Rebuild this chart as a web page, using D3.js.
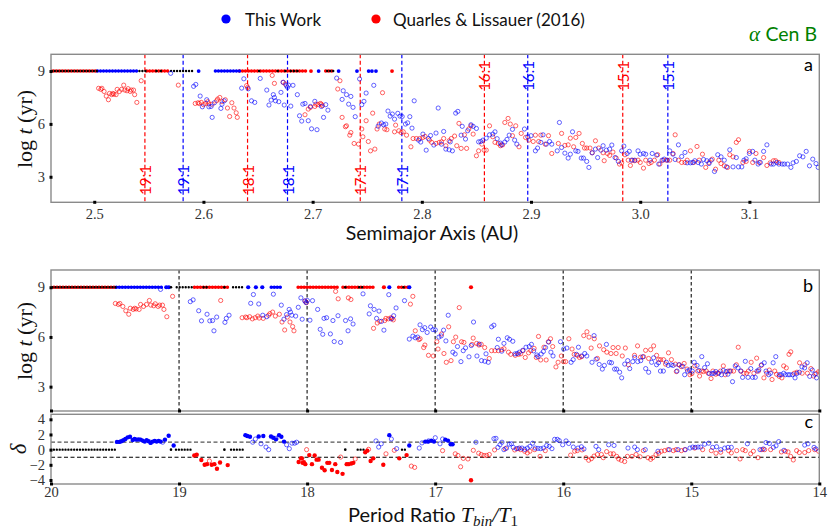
<!DOCTYPE html>
<html><head><meta charset="utf-8">
<script src="https://cdn.jsdelivr.net/npm/d3@7"></script>
<style>body{margin:0;background:#fff}svg{display:block}</style>
</head><body>
<svg id="chart" width="831" height="532"></svg>
<script>
// ---------------- DATA ----------------
const seriesNames = ["This Work", "Quarles & Lissauer (2016)"];
const starName = "Cen B";
const xTicksA = [2.5, 2.6, 2.7, 2.8, 2.9, 3.0, 3.1];
const yTicksT = [3, 6, 9];
const xTicksP = [20, 19, 18, 17, 16, 15, 14];
const yTicksD = [-4, -2, 0, 2, 4];
const periodGuides = [19, 18, 17, 16, 15];
const deltaGuides = [1, -1];

// mean-motion resonance positions (AU) in panel a
const resonances = [
  {label: "19:1", a: 2.5464, src: "red"},  {label: "19:1", a: 2.5814, src: "blue"},
  {label: "18:1", a: 2.6404, src: "red"},  {label: "18:1", a: 2.6770, src: "blue"},
  {label: "17:1", a: 2.7436, src: "red"},  {label: "17:1", a: 2.7817, src: "blue"},
  {label: "16:1", a: 2.8573, src: "red"},  {label: "16:1", a: 2.8970, src: "blue"},
  {label: "15:1", a: 2.9840, src: "red"},  {label: "15:1", a: 3.0253, src: "blue"}
];
// semimajor axis of the 19:1 resonance for each study (converts a -> period ratio, Kepler III)
const a19 = {blue: 2.583, red: 2.5475};

// panel a: unstable (open) points  [a (AU), log t]
const blueA = [
[2.570,8.87],[2.591,8.13],[2.593,8.24],[2.597,7.58],[2.599,6.97],[2.603,7.37],[2.605,6.97],[2.607,6.99],[2.608,6.37],[2.610,7.20],[2.616,6.88],[2.617,7.12],[2.619,7.31],
[2.635,8.03],[2.637,8.56],[2.641,7.99],[2.644,7.31],[2.647,7.22],[2.652,8.58],[2.658,7.92],[2.660,7.07],[2.662,7.35],[2.664,7.66],[2.665,7.50],[2.666,7.31],[2.669,7.26],[2.671,7.79],[2.673,8.36],[2.674,7.07],[2.676,8.17],[2.677,8.07],[2.678,8.20],[2.680,7.01],[2.682,8.19],
[2.686,7.66],[2.688,6.46],[2.690,6.16],[2.691,7.12],[2.693,7.16],[2.696,6.18],[2.698,6.99],[2.699,5.72],[2.702,7.28],[2.704,5.67],[2.708,6.99],[2.710,6.37],[2.712,7.09],[2.714,6.78],
[2.722,8.60],[2.727,7.39],[2.728,7.88],[2.731,7.66],[2.733,7.12],[2.735,7.56],[2.737,6.94],[2.739,6.41],[2.743,8.55],[2.745,7.09],[2.747,7.28],[2.749,7.75],[2.756,8.19],
[2.760,5.87],[2.763,6.05],[2.765,5.95],[2.767,5.99],[2.769,6.73],[2.771,6.44],[2.773,6.56],[2.775,6.27],[2.778,6.60],[2.780,6.44],[2.782,6.42],[2.785,5.99],[2.787,6.06],[2.789,6.41],[2.791,5.76],[2.793,7.31],
[2.797,5.08],[2.799,4.97],[2.801,5.42],[2.804,4.51],[2.806,5.17],[2.808,5.34],[2.811,4.80],[2.813,5.48],[2.815,6.90],[2.818,4.85],[2.820,5.57],[2.822,4.57],[2.825,4.53],[2.826,4.98],[2.828,4.47],[2.831,6.61],[2.833,6.71],[2.836,5.36],[2.837,5.86],[2.840,5.14],[2.842,5.61],[2.845,5.95],[2.847,5.86],[2.850,5.74],[2.852,4.98],[2.854,5.00],[2.856,5.08],[2.859,5.19],[2.862,5.38],[2.865,5.42],[2.867,5.55],[2.869,5.16],[2.872,4.91],[2.873,4.81],[2.876,4.97],[2.878,5.12],[2.880,5.36],[2.883,5.69],[2.885,5.08],[2.887,4.85],[2.894,5.71],[2.897,5.27],[2.900,5.33],[2.904,4.47],[2.906,4.63],[2.909,4.95],[2.911,5.38],[2.914,4.85],[2.917,5.00],[2.919,4.85],
[2.924,4.47],[2.926,6.08],[2.928,4.66],[2.931,4.34],[2.934,4.06],[2.936,4.28],[2.938,5.55],[2.941,4.47],[2.943,4.44],[2.946,4.06],[2.948,4.06],[2.951,3.87],[2.953,3.53],[2.956,4.36],[2.959,4.57],[2.961,4.09],[2.964,4.51],[2.966,4.76],[2.969,4.51],[2.972,4.57],[2.974,4.80],[2.977,4.09],[2.980,3.87],[2.983,4.47],[2.985,4.74],[2.988,4.32],[2.990,4.44],[2.992,3.94],[2.995,3.94],[2.998,4.47],[3.000,4.28],[3.003,4.32],[3.005,4.28],[3.009,3.94],[3.011,4.32],[3.015,4.23],[3.017,3.72],[3.020,3.94],[3.022,4.00],[3.025,3.94],[3.027,4.47],[3.030,4.28],[3.032,3.98],[3.035,4.81],[3.038,4.15],[3.041,4.38],[3.043,3.79],[3.046,3.79],[3.048,3.81],[3.050,3.91],[3.053,3.81],[3.056,3.72],[3.058,3.98],[3.061,3.91],[3.063,3.75],[3.065,3.94],[3.068,3.30],[3.071,4.25],[3.074,4.13],[3.077,3.94],[3.079,3.56],[3.082,4.53],[3.085,3.56],[3.088,4.09],[3.090,3.56],[3.093,3.56],[3.095,3.94],[3.097,4.02],[3.100,4.32],[3.103,4.44],[3.105,3.94],[3.108,3.72],[3.110,3.81],[3.113,4.44],[3.116,4.81],[3.120,3.72],[3.122,3.72],[3.125,3.81],[3.127,3.72],[3.130,3.72],[3.132,3.72],[3.135,3.72],[3.138,3.53],[3.140,3.79],[3.143,3.87],[3.146,4.19],[3.149,4.13],[3.152,4.44],[3.155,3.62],[3.158,4.00],[3.161,3.75],[3.163,3.53]
];
const redA = [
[2.504,8.02],[2.506,7.96],[2.507,8.02],[2.509,7.84],[2.511,7.58],[2.513,7.37],[2.514,7.73],[2.516,7.66],[2.517,7.73],[2.518,7.69],[2.520,7.66],[2.521,7.96],[2.523,7.84],[2.525,7.96],[2.527,8.20],[2.528,7.92],[2.530,7.88],[2.531,8.00],[2.533,7.84],[2.534,7.92],[2.536,7.92],[2.537,7.66],[2.539,7.22],[2.543,8.45],[2.577,8.20],
[2.5925,7.16],[2.595,7.20],[2.596,7.16],[2.598,7.22],[2.600,7.09],[2.602,7.16],[2.604,7.26],[2.605,7.14],[2.608,7.12],[2.612,7.31],[2.613,7.41],[2.615,7.50],[2.617,7.26],[2.620,7.37],[2.622,6.90],[2.624,6.42],[2.626,7.20],[2.628,6.90],[2.630,6.63],[2.631,6.37],
[2.6395,8.17],[2.6405,8.07],[2.663,8.75],[2.665,8.30],[2.673,8.36],[2.675,8.26],
[2.693,6.52],[2.696,6.84],[2.698,6.94],[2.702,6.99],[2.703,7.12],[2.705,7.09],[2.707,7.16],[2.708,7.12],[2.709,7.03],[2.723,7.98],[2.725,8.45],[2.727,6.37],[2.730,5.84],[2.731,5.89],[2.734,5.36],[2.735,5.51],[2.738,4.89],[2.742,4.85],[2.745,5.71],[2.746,5.27],[2.749,6.18],[2.751,5.00],[2.753,4.47],[2.755,6.61],[2.757,4.57],[2.759,5.71],[2.761,5.99],[2.764,7.77],[2.766,5.71],[2.768,5.67],[2.775,5.55],[2.776,5.93],[2.779,5.61],[2.781,5.51],[2.783,5.55],[2.786,5.36],[2.790,4.70],[2.792,5.17],[2.795,5.17],[2.798,5.17],[2.801,5.23],[2.803,5.29],[2.807,5.08],[2.809,4.95],[2.813,4.89],[2.816,4.95],[2.818,4.98],[2.820,5.17],[2.822,4.76],[2.825,5.04],[2.827,5.17],[2.830,5.31],[2.832,4.76],[2.834,6.03],[2.836,4.61],[2.839,5.38],[2.841,4.61],[2.843,5.71],[2.845,5.89],[2.847,5.42],[2.850,4.19],[2.852,4.47],[2.855,4.85],[2.857,4.51],[2.859,4.51],[2.862,5.89],[2.865,5.27],[2.867,4.95],[2.870,4.89],[2.872,4.76],[2.874,4.81],[2.876,6.08],[2.879,6.31],[2.881,5.99],[2.883,5.33],[2.886,5.89],[2.889,4.70],[2.891,5.46],[2.895,5.23],[2.898,5.08],[2.902,5.00],[2.904,5.36],[2.907,5.00],[2.909,5.36],[2.913,4.85],[2.916,5.33],[2.919,4.32],
[2.925,4.89],[2.928,5.46],[2.931,4.78],[2.934,4.81],[2.936,5.19],[2.939,4.70],[2.941,5.23],[2.944,5.46],[2.947,4.89],[2.949,4.63],[2.951,4.63],[2.954,4.63],[2.956,4.36],[2.959,5.04],[2.962,4.63],[2.966,4.36],[2.967,3.91],[2.970,4.32],[2.972,4.21],[2.975,4.40],[2.978,4.06],[2.981,3.72],[2.983,3.79],[2.986,4.25],[2.989,3.94],[2.991,3.64],[2.993,3.94],[2.995,3.91],[2.998,3.94],[3.000,3.81],[3.003,3.49],[3.005,3.94],[3.008,3.75],[3.010,3.81],[3.013,3.94],[3.016,4.25],[3.018,3.72],[3.021,3.94],[3.024,3.94],[3.027,3.94],[3.030,4.32],[3.032,5.38],[3.035,3.94],[3.038,3.81],[3.041,3.81],[3.043,3.94],[3.046,4.47],[3.049,3.81],[3.052,4.72],[3.054,3.94],[3.057,4.28],[3.060,3.53],[3.063,3.81],[3.066,4.00],[3.069,3.43],[3.072,3.94],[3.074,3.75],[3.077,3.62],[3.080,3.53],[3.082,4.25],[3.085,4.13],[3.088,4.95],[3.090,5.10],[3.094,3.81],[3.097,3.87],[3.100,4.44],[3.103,3.81],[3.106,4.32],[3.109,3.81],[3.113,4.09],[3.116,3.64],[3.119,3.79],[3.122,3.91],[3.124,3.91],[3.127,3.81]
];

// stable (log t = 9) runs and single points, panel a  [a_start, a_end]
const stableRunsA = {
  red:   [[2.457,2.503],[2.548,2.569],[2.633,2.694],[2.712,2.720]],
  blue:  [[2.503,2.540],[2.611,2.633]],
  black: [[2.457,2.503],[2.540,2.548],[2.569,2.592],[2.712,2.720]]
};
const stableDotsA = {
  red:   [2.6985, 2.7727],
  blue:  [2.5956, 2.7055, 2.7238, 2.7406, 2.7513, 2.7543, 2.7580],
  black: [2.557, 2.561, 2.651, 2.668, 2.675, 2.680, 2.683, 2.686]
};
// stable runs and single points, panel b  [P_start, P_end]
const stableRunsB = {
  red:   [[20.0,19.49],[18.88,18.62],[18.07,17.75],[17.72,17.475],[17.285,17.21]],
  blue:  [[19.49,19.13],[18.28,18.19]],
  black: [[20.0,19.49],[19.03,18.89],[18.82,18.78],[18.59,18.50],[17.605,17.553],[17.259,17.228]]
};
const stableDotsB = {
  red:   [17.40, 16.72],
  blue:  [19.10, 19.08, 18.46, 18.40, 18.35, 17.358, 17.202],
  black: [19.063, 18.646, 17.702]
};

// panel c: delta = difference in log t  [P, delta]
const deltaZeroRuns = [[20.0,19.492],[19.024,18.894],[18.594,18.503],[17.605,17.553],[17.259,17.228]];
const deltaZeroDots = [19.063, 18.646, 17.702];
const deltaBlueFilled = [
[19.485,1.02],[19.466,1.02],[19.451,1.11],[19.435,1.23],[19.419,1.40],[19.401,1.62],[19.383,1.70],[19.362,1.28],[19.347,1.40],[19.331,1.32],[19.315,1.36],[19.300,1.32],[19.284,1.19],[19.268,1.06],[19.253,1.23],[19.237,1.11],[19.222,0.89],[19.206,1.06],[19.190,1.15],[19.175,1.06],[19.159,1.15],[19.144,1.06],[19.110,1.32],[19.081,1.83],[19.042,0.55],
[18.482,1.91],[18.467,1.79],[18.446,1.70],[18.378,1.74],[18.342,1.79],[18.282,1.74],[18.264,1.57],[18.243,1.36],[18.219,1.91],[18.201,1.70],[18.180,1.06],
[17.358,1.91],[17.202,0.55],[17.077,1.06],[17.056,1.06],[17.030,1.19],[17.009,1.06],[16.921,1.32],[16.900,1.19],[16.879,0.72],[16.864,0.72]
];
const deltaBlueOpen = [
[19.128,0.98],[18.425,0.98],[18.404,1.40],[18.360,0.77],[18.321,0.34],[18.300,0.0],[18.243,1.49],[18.160,0.64],[18.139,0.13],[18.118,0.85],[18.097,0.85],[18.082,0.98],
[17.462,1.15],[17.441,0.34],[17.421,0.77],[17.342,1.40],[17.301,0.13],[17.124,0.21],[17.103,0.89],[17.051,1.15],[16.999,1.57],[16.962,0.77],[16.942,1.40],[16.681,0.98],[16.541,1.45],[16.525,1.49],[16.510,0.30],[16.494,0.64],[16.478,0.98],[16.463,0.0],[16.442,0.21],[16.421,0.72],[16.405,0.77],[16.390,0.30],[16.364,0.13],[16.343,0.21],[16.322,0.21],[16.301,0.04],[16.280,0.21],[16.260,0.43],[16.239,0.85],[16.218,0.21],[16.197,0.17],[16.176,0.13],[16.155,0.21],[16.129,0.55],[16.109,0.43],[16.088,0.13],[16.067,1.36],[16.046,1.36],[16.031,1.19],
[16.004,0.64],[15.978,1.15],[15.957,0.81],[15.921,0.34],[15.884,0.21],[15.858,0.38],[15.838,0.09],[15.744,0.43],[15.723,0.0],[15.645,0.64],[15.603,0.55],[15.494,0.21],[15.442,0.34],[15.421,0.0],[15.359,0.0],[15.260,-0.21],[15.171,0.0],[15.103,0.0],[15.046,0.0],[15.010,0.21],[14.989,0.34],[14.968,0.30],[14.947,0.34],[14.926,0.34],[14.895,0.72],[14.864,0.85],[14.833,0.30],[14.802,0.38],[14.770,0.0],[14.739,0.21],[14.713,0.30],[14.687,0.30],[14.562,0.77],[14.463,0.0],[14.437,0.09],[14.416,0.94],[14.390,0.81],[14.359,0.30],[14.338,0.51],[14.317,1.06],[14.276,-0.09],[14.114,0.60],[14.088,0.77],[14.041,0.30],[14.026,0.09]
];
const deltaRedFilled = [
[18.881,-0.77],[18.862,-0.68],[18.826,-1.36],[18.800,-2.00],[18.782,-1.91],[18.745,-2.00],[18.724,-1.91],[18.704,-2.51],[18.680,-1.70],[18.620,-2.04],
[18.048,-1.15],[18.035,-1.74],[18.014,-1.91],[18.066,-1.62],[18.040,-1.15],[18.025,-1.66],[17.983,-0.72],[17.962,-1.91],[17.941,-0.77],[17.926,-1.32],[17.910,-1.32],[17.884,-2.38],[17.863,-2.72],[17.842,-1.74],[17.827,-1.74],[17.806,-2.68],[17.780,-1.91],[17.764,-2.94],[17.723,-3.19],[17.691,-1.91],[17.676,-1.91],[17.655,-1.83],[17.639,-1.74],[17.546,-0.34],[17.530,-0.13],[17.504,-1.49],[17.483,-1.15],[17.405,-2.00],[17.280,-1.15],[17.223,-0.72],[16.720,-4.04]
];
const deltaRedOpen = [
[18.763,-1.49],[18.004,0.0],[17.738,-0.98],[17.624,-1.23],[17.520,0.04],[17.384,-0.55],[17.319,-0.09],[17.186,-2.17],[17.160,-2.34],[16.942,-0.13],[16.843,-0.55],[16.822,-0.77],[16.801,-2.26],[16.780,-1.15],[16.744,-1.23],[16.702,-0.09],[16.660,-0.47],[16.640,-0.64],[16.619,-0.77],[16.598,-0.77],[16.577,-0.64],
[16.536,-0.04],[16.452,0.13],[16.379,-0.04],[16.353,0.13],[16.332,0.0],[16.301,-0.21],[16.280,-0.43],[16.260,-0.21],[16.223,0.0],[16.181,-0.89],[16.140,-0.13],
[15.942,-0.72],[15.910,-0.21],[15.890,-0.13],[15.853,-0.04],[15.822,-1.06],[15.801,-1.40],[15.780,-1.19],[15.759,-0.85],[15.733,-0.64],[15.702,-0.64],[15.687,-1.06],[15.661,-0.26],[15.629,-0.55],[15.608,-0.55],[15.582,-0.89],[15.567,-1.23],[15.546,-1.40],[15.520,-1.57],[15.499,-0.89],[15.463,-0.89],[15.431,-0.64],[15.400,-0.94],[15.374,-0.13],[15.338,-1.06],[15.317,-1.28],[15.301,-1.06],[15.275,-0.64],[15.254,-0.47],[15.234,-0.21],[15.208,-0.13],[15.182,0.0],[15.140,-0.13],[15.119,0.0],[15.077,-0.13],[15.051,0.0],[14.973,0.21],[14.911,0.0],[14.843,-0.13],[14.807,-0.47],[14.770,-0.34],[14.708,-0.13],[14.687,-0.43],[14.645,-0.13],[14.619,-1.23],[14.598,0.0],[14.578,-0.13],[14.536,-0.55],[14.515,-0.21],[14.479,-1.06],[14.448,0.0],[14.427,0.0],[14.380,0.0],[14.296,-0.30],[14.265,-0.21],[14.244,-0.30],[14.224,-0.89],[14.203,-1.36],[14.177,-0.13],[14.156,-0.38],[14.114,-0.38],[14.083,-0.13],[14.036,0.0],[14.005,-0.21]
];

// ---------------- DRAWING ----------------
const COL = {blue: "#0000ff", red: "#ff0000", black: "#000000"};
const SANS = "Lato, 'Open Sans', sans-serif";
const SERIF = "'Liberation Serif', 'DejaVu Serif', serif";
const svg = d3.select("#chart");
const L = 51, R = 819.3;
const pA = {top: 54.3, bottom: 202.3};
const pB = {top: 270, bottom: 411};
const pC = {top: 414.3, bottom: 484};

const xA = d3.scaleLinear().domain([2.4604, 3.164]).range([L, R]);
const yA = d3.scaleLinear().domain([1.55, 9.95]).range([pA.bottom, pA.top]);
const xP = d3.scaleLinear().domain([20, 14]).range([L, R]);
const yB = d3.scaleLinear().domain([1.53, 10.04]).range([pB.bottom, pB.top]);
const yC = d3.scaleLinear().domain([-4.53, 4.66]).range([pC.bottom, pC.top]);
const toP = (a, a0) => 19 * Math.pow(a0 / a, 1.5);

const defs = svg.append("defs");
[["clipA", pA], ["clipB", pB], ["clipC", pC]].forEach(([id, p]) => {
  defs.append("clipPath").attr("id", id).append("rect")
    .attr("x", L).attr("y", p.top).attr("width", R - L).attr("height", p.bottom - p.top);
});

function runs(g, data, xs, y, color, w, gap, off) {
  g.selectAll(null).data(data).join("line")
    .attr("x1", d => xs(d[0])).attr("x2", d => xs(d[1]))
    .attr("y1", y).attr("y2", y)
    .attr("stroke", color).attr("stroke-width", w).attr("stroke-linecap", "round")
    .attr("stroke-dasharray", `0 ${gap}`).attr("stroke-dashoffset", off || 0);
}
function singles(g, data, xs, y, color, r) {
  g.selectAll(null).data(data).join("circle")
    .attr("cx", d => xs(d)).attr("cy", y).attr("r", r).attr("fill", color);
}
function openPts(g, data, xs, ys, color) {
  g.selectAll(null).data(data).join("circle")
    .attr("cx", d => xs(d[0])).attr("cy", d => ys(d[1])).attr("r", 2.1)
    .attr("fill", "none").attr("stroke", color).attr("stroke-opacity", 0.6).attr("stroke-width", 1);
}
function filledPts(g, data, xs, ys, color) {
  g.selectAll(null).data(data).join("circle")
    .attr("cx", d => xs(d[0])).attr("cy", d => ys(d[1])).attr("r", 2.2).attr("fill", color);
}
function frame(p) {
  svg.append("rect").attr("x", L).attr("y", p.top).attr("width", R - L).attr("height", p.bottom - p.top)
    .attr("fill", "none").attr("stroke", "#8a8a8a").attr("stroke-width", 1.4);
}
function styleAxis(g, horizontal) {
  g.select(".domain").remove();
  g.selectAll(".tick line").attr("stroke", "#000").attr("stroke-width", 3)
    .attr(horizontal ? "y1" : "x1", -1.5).attr(horizontal ? "y2" : "x2", 1.5);
  g.selectAll(".tick text").attr("font-family", SERIF).attr("font-size", 14.5).attr("fill", "#333");
}

// ---- Legend ----
const leg = svg.append("g");
leg.append("circle").attr("cx", 226).attr("cy", 19).attr("r", 4.6).attr("fill", COL.blue);
leg.append("text").attr("x", 245).attr("y", 26).text(seriesNames[0]);
leg.append("circle").attr("cx", 376).attr("cy", 19).attr("r", 4.6).attr("fill", COL.red);
leg.append("text").attr("x", 393).attr("y", 26).text(seriesNames[1]);
leg.selectAll("text").attr("font-family", SANS).attr("font-size", 17).attr("fill", "#111");

const star = svg.append("text").attr("x", 817).attr("y", 41).attr("text-anchor", "end").attr("fill", "#008000");
star.append("tspan").attr("font-family", SERIF).attr("font-style", "italic").attr("font-size", 21).text("α ");
star.append("tspan").attr("font-family", SANS).attr("font-size", 19.5).text(starName);

// ---- Panel a ----
const gA = svg.append("g").attr("clip-path", "url(#clipA)");
gA.selectAll(null).data(resonances).join("line")
  .attr("x1", d => xA(d.a)).attr("x2", d => xA(d.a))
  .attr("y1", pA.top).attr("y2", pA.bottom)
  .attr("stroke", d => COL[d.src]).attr("stroke-width", 1.2).attr("stroke-dasharray", "4,2.5");
runs(gA, stableRunsA.red, xA, yA(9), COL.red, 3.6, 3);
runs(gA, stableRunsA.blue, xA, yA(9), COL.blue, 3.6, 3);
runs(gA, stableRunsA.black, xA, yA(9), COL.black, 2.4, 3, 1.5);
singles(gA, stableDotsA.red, xA, yA(9), COL.red, 1.9);
singles(gA, stableDotsA.blue, xA, yA(9), COL.blue, 1.9);
singles(gA, stableDotsA.black, xA, yA(9), COL.black, 1.3);
openPts(gA, redA, xA, yA, COL.red);
openPts(gA, blueA, xA, yA, COL.blue);
// resonance labels
svg.selectAll(null).data(resonances).join("text")
  .attr("transform", d => {
    const low = parseInt(d.label) >= 17;
    return `translate(${xA(d.a)},${low ? 195 : 61}) rotate(-90)`;
  })
  .attr("text-anchor", d => parseInt(d.label) >= 17 ? "start" : "end")
  .attr("dominant-baseline", "central")
  .attr("font-family", SANS).attr("font-size", 15)
  .attr("fill", d => COL[d.src]).text(d => d.label);
frame(pA);
const axA = svg.append("g").attr("transform", `translate(0,${pA.bottom})`)
  .call(d3.axisBottom(xA).tickValues(xTicksA).tickFormat(d3.format(".1f")).tickSize(0).tickPadding(6));
styleAxis(axA, true);
const ayA = svg.append("g").attr("transform", `translate(${L},0)`)
  .call(d3.axisLeft(yA).tickValues(yTicksT).tickSize(0).tickPadding(6));
styleAxis(ayA, false);
svg.append("text").attr("x", 813).attr("y", 70.5).attr("text-anchor", "end")
  .attr("font-family", SANS).attr("font-size", 18).text("a");
svg.append("text").attr("x", 432).attr("y", 240).attr("text-anchor", "middle")
  .attr("font-family", SANS).attr("font-size", 19.5).attr("fill", "#111").text("Semimajor Axis (AU)");

function yLabelT(cy) {
  const t = svg.append("text").attr("transform", `translate(32,${cy}) rotate(-90)`)
    .attr("text-anchor", "middle").attr("font-family", SERIF).attr("font-size", 22).attr("fill", "#111");
  t.append("tspan").text("log ");
  t.append("tspan").attr("font-style", "italic").text("t");
  t.append("tspan").text(" (yr)");
}
yLabelT(129);

// ---- Panel b ----
const gB = svg.append("g").attr("clip-path", "url(#clipB)");
gB.selectAll(null).data(periodGuides).join("line")
  .attr("x1", d => xP(d)).attr("x2", d => xP(d)).attr("y1", pB.top).attr("y2", pB.bottom)
  .attr("stroke", "#222").attr("stroke-width", 1.2).attr("stroke-dasharray", "3.5,2.5");
runs(gB, stableRunsB.red, xP, yB(9), COL.red, 3.6, 3);
runs(gB, stableRunsB.blue, xP, yB(9), COL.blue, 3.6, 3);
runs(gB, stableRunsB.black, xP, yB(9), COL.black, 2.4, 3, 1.5);
singles(gB, stableDotsB.red, xP, yB(9), COL.red, 2.1);
singles(gB, stableDotsB.blue, xP, yB(9), COL.blue, 2.1);
singles(gB, stableDotsB.black, xP, yB(9), COL.black, 1.3);
openPts(gB, redA.map(d => [toP(d[0], a19.red), d[1]]), xP, yB, COL.red);
openPts(gB, blueA.map(d => [toP(d[0], a19.blue), d[1]]), xP, yB, COL.blue);
frame(pB);
const axB = svg.append("g").attr("transform", `translate(0,${pB.bottom})`)
  .call(d3.axisBottom(xP).tickValues(xTicksP).tickFormat("").tickSize(0));
styleAxis(axB, true);
const ayB = svg.append("g").attr("transform", `translate(${L},0)`)
  .call(d3.axisLeft(yB).tickValues(yTicksT).tickSize(0).tickPadding(6));
styleAxis(ayB, false);
svg.append("text").attr("x", 813).attr("y", 292).attr("text-anchor", "end")
  .attr("font-family", SANS).attr("font-size", 18).text("b");
yLabelT(341);

// ---- Panel c ----
const gC = svg.append("g").attr("clip-path", "url(#clipC)");
gC.selectAll(null).data(deltaGuides).join("line")
  .attr("x1", L).attr("x2", R).attr("y1", d => yC(d)).attr("y2", d => yC(d))
  .attr("stroke", d => d > 0 ? "#555" : "#000").attr("stroke-width", 1.2).attr("stroke-dasharray", "4,2.5");
runs(gC, deltaZeroRuns, xP, yC(0), COL.black, 2.4, 2.9);
singles(gC, deltaZeroDots, xP, yC(0), COL.black, 1.3);
openPts(gC, deltaRedOpen, xP, yC, COL.red);
openPts(gC, deltaBlueOpen, xP, yC, COL.blue);
filledPts(gC, deltaRedFilled, xP, yC, COL.red);
filledPts(gC, deltaBlueFilled, xP, yC, COL.blue);
frame(pC);
const axC = svg.append("g").attr("transform", `translate(0,${pC.bottom})`)
  .call(d3.axisBottom(xP).tickValues(xTicksP).tickFormat(d3.format("d")).tickSize(0).tickPadding(3));
styleAxis(axC, true);
const ayC = svg.append("g").attr("transform", `translate(${L},0)`)
  .call(d3.axisLeft(yC).tickValues(yTicksD).tickSize(0).tickPadding(6));
styleAxis(ayC, false);
svg.append("text").attr("x", 813).attr("y", 428).attr("text-anchor", "end")
  .attr("font-family", SANS).attr("font-size", 18).text("c");
svg.append("text").attr("transform", "translate(26,449) rotate(-90)").attr("text-anchor", "middle")
  .attr("font-family", SERIF).attr("font-style", "italic").attr("font-size", 23).attr("fill", "#111").text("δ");

const xl = svg.append("text").attr("x", 433).attr("y", 522).attr("text-anchor", "middle").attr("fill", "#111");
xl.append("tspan").attr("font-family", SANS).attr("font-size", 20).text("Period Ratio ");
xl.append("tspan").attr("font-family", SERIF).attr("font-style", "italic").attr("font-size", 22).text("T");
xl.append("tspan").attr("font-family", SERIF).attr("font-style", "italic").attr("font-size", 15).attr("dy", 4).text("bin");
xl.append("tspan").attr("font-family", SERIF).attr("font-style", "italic").attr("font-size", 22).attr("dy", -4).text("/T");
xl.append("tspan").attr("font-family", SERIF).attr("font-size", 15).attr("dy", 4).text("1");
</script>
</body></html>
